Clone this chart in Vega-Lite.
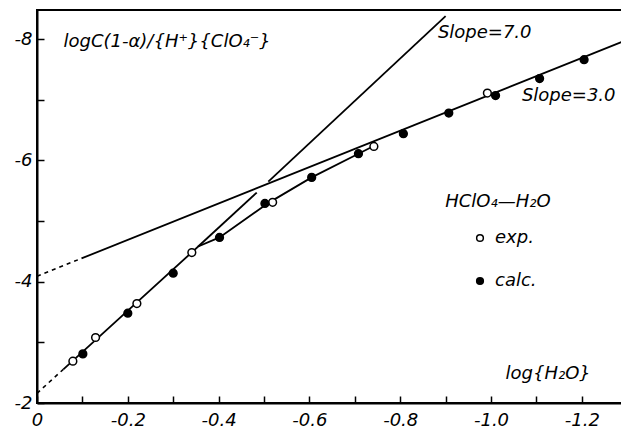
{
  "$schema": "https://vega.github.io/schema/vega-lite/v6.json",
  "width": 585,
  "height": 393,
  "autosize": {"type": "none"},
  "padding": {"left": 37, "top": 10, "right": 0, "bottom": 27},
  "background": "white",
  "config": {
    "view": {"stroke": "black", "strokeWidth": 2},
    "font": "DejaVu Sans"
  },
  "datasets": {
    "points": [
      {"type": "exp.", "x": -0.079, "y": -2.69},
      {"type": "exp.", "x": -0.129, "y": -3.08},
      {"type": "exp.", "x": -0.220, "y": -3.64},
      {"type": "exp.", "x": -0.341, "y": -4.48},
      {"type": "exp.", "x": -0.519, "y": -5.31},
      {"type": "exp.", "x": -0.742, "y": -6.23},
      {"type": "exp.", "x": -0.992, "y": -7.11},
      {"type": "calc.", "x": -0.101, "y": -2.81},
      {"type": "calc.", "x": -0.200, "y": -3.48},
      {"type": "calc.", "x": -0.300, "y": -4.14},
      {"type": "calc.", "x": -0.402, "y": -4.73},
      {"type": "calc.", "x": -0.502, "y": -5.29},
      {"type": "calc.", "x": -0.605, "y": -5.72},
      {"type": "calc.", "x": -0.708, "y": -6.11},
      {"type": "calc.", "x": -0.807, "y": -6.44},
      {"type": "calc.", "x": -0.907, "y": -6.78},
      {"type": "calc.", "x": -1.010, "y": -7.07},
      {"type": "calc.", "x": -1.107, "y": -7.35},
      {"type": "calc.", "x": -1.205, "y": -7.66}
    ],
    "lines": [
      {"seg": "s3d", "style": "dashed", "x": 0, "y": -4.09},
      {"seg": "s3d", "style": "dashed", "x": -0.098, "y": -4.384},
      {"seg": "s3", "style": "solid", "x": -0.098, "y": -4.384},
      {"seg": "s3", "style": "solid", "x": -1.2885, "y": -7.955},
      {"seg": "s7a", "style": "solid", "x": -0.355, "y": -4.58},
      {"seg": "s7a", "style": "solid", "x": -0.484, "y": -5.47},
      {"seg": "s7b", "style": "solid", "x": -0.5095, "y": -5.65},
      {"seg": "s7b", "style": "solid", "x": -0.900, "y": -8.38},
      {"seg": "cd", "style": "dashed", "x": 0, "y": -2.16},
      {"seg": "cd", "style": "dashed", "x": -0.058, "y": -2.555},
      {"seg": "c", "style": "solid", "x": -0.058, "y": -2.555},
      {"seg": "c", "style": "solid", "x": -0.355, "y": -4.58},
      {"seg": "c", "style": "solid", "x": -0.402, "y": -4.73},
      {"seg": "c", "style": "solid", "x": -0.510, "y": -5.30},
      {"seg": "c", "style": "solid", "x": -0.605, "y": -5.72},
      {"seg": "c", "style": "solid", "x": -0.708, "y": -6.11},
      {"seg": "c", "style": "solid", "x": -0.745, "y": -6.25}
    ],
    "notes": [
      {"note": "Slope=7.0"},
      {"note": "Slope=3.0"},
      {"note": "HClO₄—H₂O"}
    ]
  },
  "layer": [
    {
      "data": {"name": "lines"},
      "transform": [{"filter": "datum.style == 'solid'"}],
      "mark": {"type": "line", "color": "black", "strokeWidth": 1.8},
      "encoding": {
        "x": {
          "field": "x",
          "type": "quantitative",
          "scale": {"domain": [0, -1.2885], "nice": false, "zero": false},
          "axis": {
            "title": "log{H₂O}",
            "values": [0, -0.1, -0.2, -0.3, -0.4, -0.5, -0.6, -0.7, -0.8, -0.9, -1.0, -1.1, -1.2],
            "labelExpr": "datum.value == 0 ? '0' : (abs(round(datum.value * 10)) % 2 == 0 ? '-' + format(-datum.value, '.1f') : '')",
            "grid": false,
            "tickSize": -7,
            "tickWidth": 1.5,
            "tickColor": "black",
            "domainColor": "black",
            "domainWidth": 2,
            "labelFont": "DejaVu Sans",
            "labelFontSize": 18,
            "labelFontStyle": "italic",
            "labelColor": "black",
            "labelPadding": 15,
            "labelFlush": false,
            "labelOverlap": false,
            "labelBound": false,
            "titleFont": "DejaVu Sans",
            "titleFontSize": 18,
            "titleFontStyle": "italic",
            "titleFontWeight": "normal",
            "titleColor": "black",
            "titleAnchor": "start",
            "titleAlign": "left",
            "titleBaseline": "alphabetic",
            "titleX": 468,
            "titleY": -25
          }
        },
        "y": {
          "field": "y",
          "type": "quantitative",
          "scale": {"domain": [-2, -8.48], "nice": false, "zero": false},
          "axis": {
            "title": "logC(1-α)/{H⁺}{ClO₄⁻}",
            "values": [-2, -3, -4, -5, -6, -7, -8],
            "labelExpr": "abs(datum.value) % 2 == 0 ? '-' + format(-datum.value, 'd') : ''",
            "grid": false,
            "tickSize": -7,
            "tickWidth": 1.5,
            "tickColor": "black",
            "domainColor": "black",
            "domainWidth": 2,
            "labelFont": "DejaVu Sans",
            "labelFontSize": 18,
            "labelFontStyle": "italic",
            "labelColor": "black",
            "labelPadding": 12,
            "labelFlush": false,
            "labelOverlap": false,
            "labelBound": false,
            "labelBaseline": "middle",
            "labelDy": 2,
            "titleFont": "DejaVu Sans",
            "titleFontSize": 18,
            "titleFontStyle": "italic",
            "titleFontWeight": "normal",
            "titleColor": "black",
            "titleAngle": 0,
            "titleAnchor": "start",
            "titleAlign": "left",
            "titleBaseline": "alphabetic",
            "titleX": 26,
            "titleY": 36
          }
        },
        "detail": {"field": "seg", "type": "nominal"}
      }
    },
    {
      "data": {"name": "lines"},
      "transform": [{"filter": "datum.style == 'dashed'"}],
      "mark": {"type": "line", "color": "black", "strokeWidth": 1.6, "strokeDash": [4, 4]},
      "encoding": {
        "x": {"field": "x", "type": "quantitative", "scale": {"domain": [0, -1.2885], "nice": false, "zero": false}},
        "y": {"field": "y", "type": "quantitative", "scale": {"domain": [-2, -8.48], "nice": false, "zero": false}},
        "detail": {"field": "seg", "type": "nominal"}
      }
    },
    {
      "data": {"name": "points"},
      "mark": {"type": "point", "shape": "circle", "filled": true, "size": 60, "stroke": "black", "strokeWidth": 1.5, "opacity": 1},
      "encoding": {
        "x": {"field": "x", "type": "quantitative", "scale": {"domain": [0, -1.2885], "nice": false, "zero": false}},
        "y": {"field": "y", "type": "quantitative", "scale": {"domain": [-2, -8.48], "nice": false, "zero": false}},
        "fill": {
          "field": "type",
          "type": "nominal",
          "scale": {"domain": ["exp.", "calc."], "range": ["white", "black"]},
          "legend": {
            "title": null,
            "orient": "none",
            "legendX": 434,
            "legendY": 219,
            "padding": 0,
            "symbolType": "circle",
            "symbolSize": 45,
            "symbolStrokeColor": "black",
            "symbolStrokeWidth": 1.5,
            "rowPadding": 25,
            "labelOffset": 6,
            "labelFont": "DejaVu Sans",
            "labelFontSize": 18,
            "labelFontStyle": "italic",
            "labelColor": "black"
          }
        }
      }
    },
    {
      "data": {"name": "notes"},
      "transform": [{"filter": "datum.note == 'Slope=7.0'"}],
      "mark": {"type": "text", "font": "DejaVu Sans", "fontSize": 18, "fontStyle": "italic", "align": "left", "baseline": "middle", "color": "black"},
      "encoding": {
        "x": {"datum": -0.883, "type": "quantitative", "scale": {"domain": [0, -1.2885], "nice": false, "zero": false}},
        "y": {"datum": -8.1, "type": "quantitative", "scale": {"domain": [-2, -8.48], "nice": false, "zero": false}},
        "text": {"field": "note", "type": "nominal"}
      }
    },
    {
      "data": {"name": "notes"},
      "transform": [{"filter": "datum.note == 'Slope=3.0'"}],
      "mark": {"type": "text", "font": "DejaVu Sans", "fontSize": 18, "fontStyle": "italic", "align": "left", "baseline": "middle", "color": "black"},
      "encoding": {
        "x": {"datum": -1.068, "type": "quantitative", "scale": {"domain": [0, -1.2885], "nice": false, "zero": false}},
        "y": {"datum": -7.07, "type": "quantitative", "scale": {"domain": [-2, -8.48], "nice": false, "zero": false}},
        "text": {"field": "note", "type": "nominal"}
      }
    },
    {
      "data": {"name": "notes"},
      "transform": [{"filter": "datum.note == 'HClO₄—H₂O'"}],
      "mark": {"type": "text", "font": "DejaVu Sans", "fontSize": 18, "fontStyle": "italic", "align": "left", "baseline": "middle", "color": "black"},
      "encoding": {
        "x": {"datum": -0.899, "type": "quantitative", "scale": {"domain": [0, -1.2885], "nice": false, "zero": false}},
        "y": {"datum": -5.31, "type": "quantitative", "scale": {"domain": [-2, -8.48], "nice": false, "zero": false}},
        "text": {"field": "note", "type": "nominal"}
      }
    }
  ]
}
